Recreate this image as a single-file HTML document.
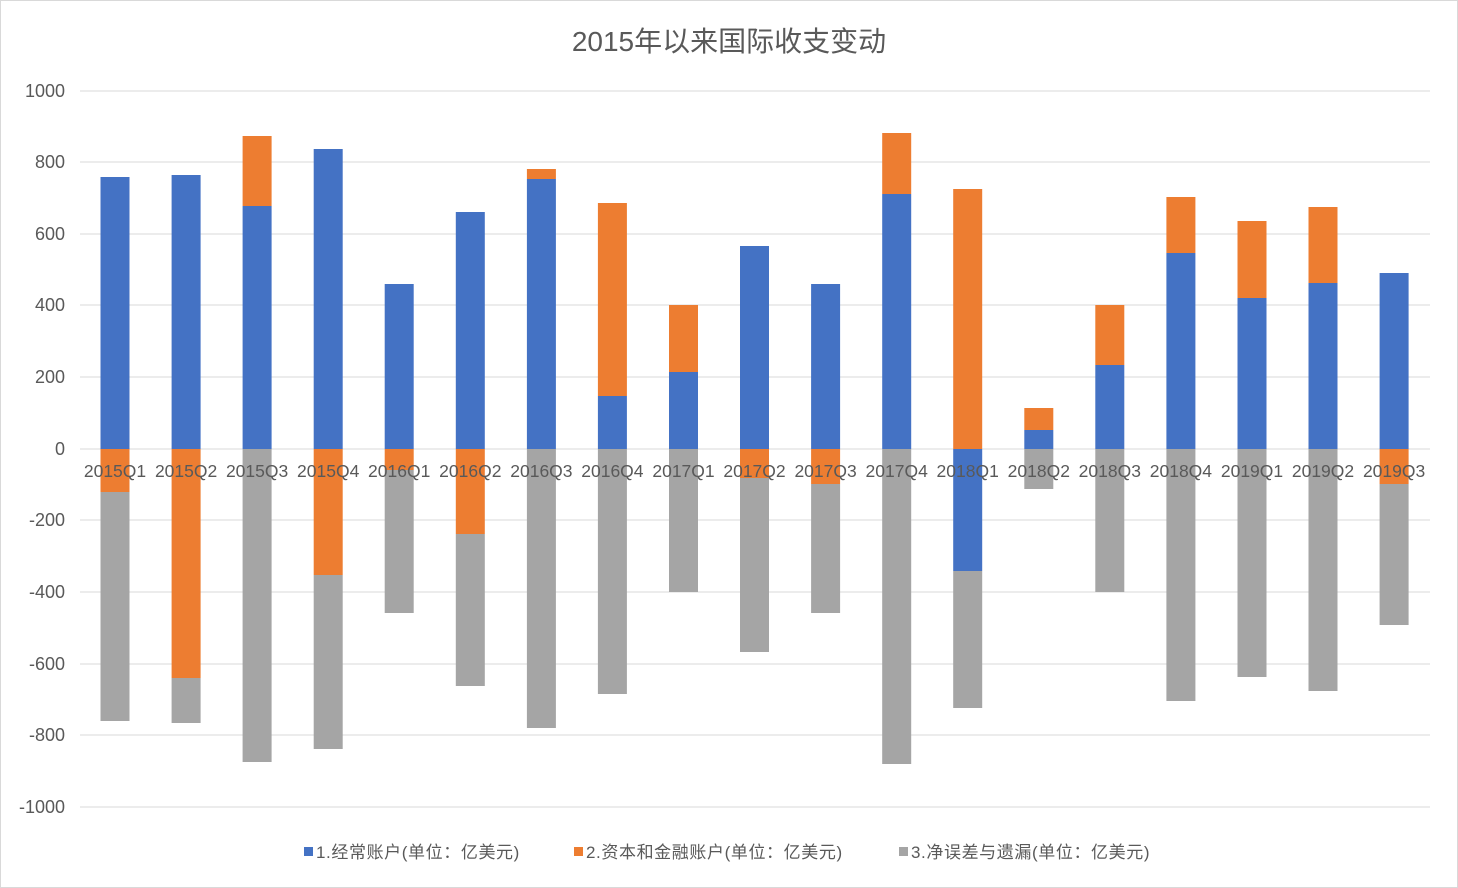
<!DOCTYPE html>
<html><head><meta charset="utf-8"><style>html,body{margin:0;padding:0;background:#fff}svg{display:block}</style></head>
<body>
<svg width="1458" height="888" xmlns="http://www.w3.org/2000/svg" font-family="Liberation Sans, Noto Sans CJK SC, sans-serif">
<rect x="0.5" y="0.5" width="1457" height="887" fill="#fff" stroke="#d9d9d9"/>
<text x="729" y="51" text-anchor="middle" font-size="28" fill="#595959">2015年以来国际收支变动</text>
<g stroke="#d9d9d9" stroke-width="1">
<line x1="80" x2="1430" y1="91" y2="91"/><line x1="80" x2="1430" y1="162" y2="162"/><line x1="80" x2="1430" y1="234" y2="234"/><line x1="80" x2="1430" y1="305" y2="305"/><line x1="80" x2="1430" y1="377" y2="377"/><line x1="80" x2="1430" y1="449" y2="449"/><line x1="80" x2="1430" y1="520" y2="520"/><line x1="80" x2="1430" y1="592" y2="592"/><line x1="80" x2="1430" y1="664" y2="664"/><line x1="80" x2="1430" y1="735" y2="735"/><line x1="80" x2="1430" y1="807" y2="807"/>
</g>
<g font-size="18" fill="#595959" text-anchor="end">
<text x="65" y="97">1000</text><text x="65" y="168">800</text><text x="65" y="240">600</text><text x="65" y="311">400</text><text x="65" y="383">200</text><text x="65" y="455">0</text><text x="65" y="526">-200</text><text x="65" y="598">-400</text><text x="65" y="670">-600</text><text x="65" y="741">-800</text><text x="65" y="813">-1000</text>
</g>
<g>
<g fill="#4472C4">
<rect x="100.5" y="177" width="29" height="272"/><rect x="171.6" y="175" width="29" height="274"/><rect x="242.6" y="206" width="29" height="243"/><rect x="313.7" y="149" width="29" height="300"/><rect x="384.7" y="284" width="29" height="165"/><rect x="455.8" y="212" width="29" height="237"/><rect x="526.9" y="179" width="29" height="270"/><rect x="597.9" y="396" width="29" height="53"/><rect x="669" y="372" width="29" height="77"/><rect x="740" y="246" width="29" height="203"/><rect x="811.1" y="284" width="29" height="165"/><rect x="882.2" y="194" width="29" height="255"/><rect x="953.2" y="449" width="29" height="122"/><rect x="1024.3" y="430" width="29" height="19"/><rect x="1095.3" y="365" width="29" height="84"/><rect x="1166.4" y="253" width="29" height="196"/><rect x="1237.5" y="298" width="29" height="151"/><rect x="1308.5" y="283" width="29" height="166"/><rect x="1379.6" y="273" width="29" height="176"/>
</g>
<g fill="#ED7D31">
<rect x="100.5" y="449" width="29" height="43"/><rect x="171.6" y="449" width="29" height="229"/><rect x="242.6" y="136" width="29" height="70"/><rect x="313.7" y="449" width="29" height="126"/><rect x="384.7" y="449" width="29" height="21"/><rect x="455.8" y="449" width="29" height="85"/><rect x="526.9" y="169" width="29" height="10"/><rect x="597.9" y="203" width="29" height="193"/><rect x="669" y="305" width="29" height="67"/><rect x="740" y="449" width="29" height="29"/><rect x="811.1" y="449" width="29" height="35"/><rect x="882.2" y="133" width="29" height="61"/><rect x="953.2" y="189" width="29" height="260"/><rect x="1024.3" y="408" width="29" height="22"/><rect x="1095.3" y="305" width="29" height="60"/><rect x="1166.4" y="197" width="29" height="56"/><rect x="1237.5" y="221" width="29" height="77"/><rect x="1308.5" y="207" width="29" height="76"/><rect x="1379.6" y="449" width="29" height="35"/>
</g>
<g fill="#A5A5A5">
<rect x="100.5" y="492" width="29" height="229"/><rect x="171.6" y="678" width="29" height="45"/><rect x="242.6" y="449" width="29" height="313"/><rect x="313.7" y="575" width="29" height="174"/><rect x="384.7" y="470" width="29" height="143"/><rect x="455.8" y="534" width="29" height="152"/><rect x="526.9" y="449" width="29" height="279"/><rect x="597.9" y="449" width="29" height="245"/><rect x="669" y="449" width="29" height="143"/><rect x="740" y="478" width="29" height="174"/><rect x="811.1" y="484" width="29" height="129"/><rect x="882.2" y="449" width="29" height="315"/><rect x="953.2" y="571" width="29" height="137"/><rect x="1024.3" y="449" width="29" height="40"/><rect x="1095.3" y="449" width="29" height="143"/><rect x="1166.4" y="449" width="29" height="252"/><rect x="1237.5" y="449" width="29" height="228"/><rect x="1308.5" y="449" width="29" height="242"/><rect x="1379.6" y="484" width="29" height="141"/>
</g>
</g>
<g font-size="17.5" fill="#595959" text-anchor="middle">
<text x="115" y="477">2015Q1</text><text x="186.1" y="477">2015Q2</text><text x="257.1" y="477">2015Q3</text><text x="328.2" y="477">2015Q4</text><text x="399.2" y="477">2016Q1</text><text x="470.3" y="477">2016Q2</text><text x="541.4" y="477">2016Q3</text><text x="612.4" y="477">2016Q4</text><text x="683.5" y="477">2017Q1</text><text x="754.5" y="477">2017Q2</text><text x="825.6" y="477">2017Q3</text><text x="896.7" y="477">2017Q4</text><text x="967.7" y="477">2018Q1</text><text x="1038.8" y="477">2018Q2</text><text x="1109.8" y="477">2018Q3</text><text x="1180.9" y="477">2018Q4</text><text x="1252" y="477">2019Q1</text><text x="1323" y="477">2019Q2</text><text x="1394.1" y="477">2019Q3</text>
</g>
<g font-size="17" fill="#595959" letter-spacing="0.6">
<rect x="304" y="847" width="9" height="9" fill="#4472C4"/><text x="316" y="858">1.经常账户(单位：亿美元)</text>
<rect x="574" y="847" width="9" height="9" fill="#ED7D31"/><text x="586" y="858">2.资本和金融账户(单位：亿美元)</text>
<rect x="899" y="847" width="9" height="9" fill="#A5A5A5"/><text x="911" y="858">3.净误差与遗漏(单位：亿美元)</text>
</g>
</svg>
</body></html>
